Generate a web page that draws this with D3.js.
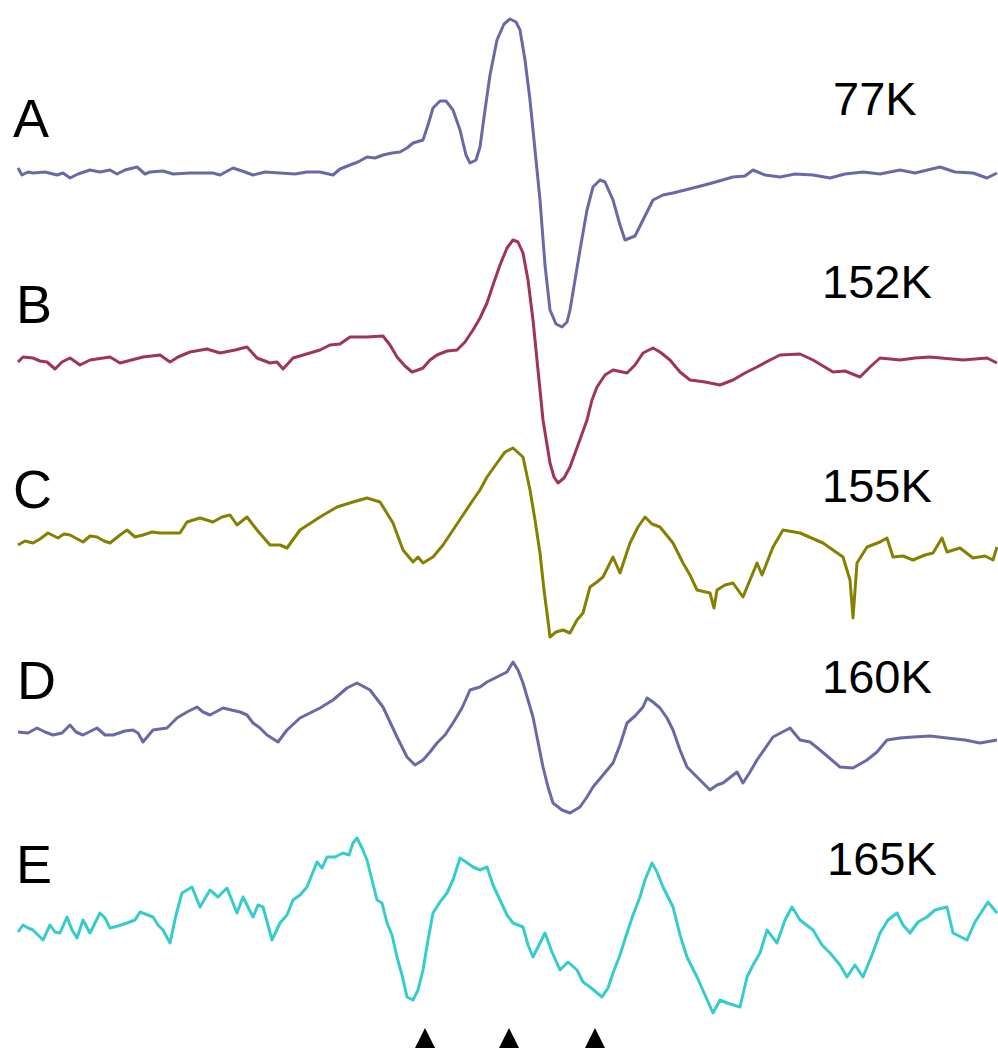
<!DOCTYPE html>
<html lang="en">
  <head>
    <meta charset="UTF-8" />
    <title>EPR spectra vs temperature</title>
    <script src="https://d3js.org/d3.v7.min.js"></script>
    <style>
      html, body { margin: 0; padding: 0; background: #fff; }
      #chart svg { display: block; }
      .lbl { font-family: "Liberation Sans", Arial, sans-serif; fill: #000; }
    </style>
  </head>
  <body>
    <div id="chart"></div>
    <script>
      const fieldA = [0,2,5,7.5,13.5,19.5,22.5,26,30,36,41,46,49.5,53.5,59.5,63.5,66,72.5,77.5,86,97.5,101,107.5,113.5,117.5,123.5,131,138.5,144.5,151,157.5,161,166,170,174.5,178.5,182.5,187,191,194.5,197.5,202.5,205,207.5,211,214,217.5,221,224,226,229,231,233.5,236,239.5,243,246,249,251,253.5,256,258.5,261,263.5,266,269,272,274.5,276,278.5,281,284.5,287.5,291,293.5,297.5,301,303.5,306,308.5,312.5,317.5,322.5,327.5,333.5,339.5,347,357.5,363.5,367.5,373.5,381,388.5,397.5,406,413.5,422.5,431,441,448.5,461,468.5,477.5,484.5,489.5];
      const signalA = [2.5,-1,0.5,0,0.5,-1,0,-2.5,-0.5,1.5,0.5,1.5,-0.5,1.5,3,-0.5,0.5,1,-0.5,0,0,-1,2.5,0.5,-1,0.5,0,-0.5,0.5,0.5,-1,2,4,5.5,8,7.5,9,10,10.5,12.5,15,16.5,24,32.5,36,36,31.5,21.5,9,5,6.5,13,31.5,49,66.5,74.5,77,75.5,71.5,56.5,36.5,11.5,-13.5,-46,-68.5,-75.5,-77,-74.5,-68.5,-53.5,-38.5,-18.5,-7,-3.5,-4.5,-13.5,-26,-33.5,-32.5,-31.5,-23.5,-13.5,-11,-10,-8.5,-7,-5,-2,-1.5,1.5,-1,-2,-0.5,-1,-2.5,-0.5,0.5,-0.5,1.5,0,3,0.5,0,-2.5,0];

      const fieldB = [0,2.5,7.5,11,14.5,18.5,22,26,31,36,46,51,62.5,71,76,80,86,94.5,101,108.5,114.5,119.5,126,129.5,132.5,137.5,146,151,156,161,166,174.5,182.5,186,189.5,193.5,197,200,202.5,206,209.5,214.5,219.5,223.5,227.5,231,234.5,237.5,241,244.5,247.5,250,252.5,255,257.5,260,262.5,266,268,270,273,276,280,284.5,287,289.5,293.5,297.5,304.5,308.5,312.5,317.5,321,326,331,336,343.5,351,357.5,363.5,369.5,376,381,391,397.5,402.5,407.5,413.5,421,426,431,441,448.5,456,472.5,484.5,489.5];
      const signalB = [-1,1.5,1,-0.5,-1,-4.5,-1,1,-2.5,0,1.5,-1.5,1.5,2.5,-1,1.5,4,5.5,3.5,5,6.5,1,-1.5,-1,-4.5,1,3.5,5,7.5,8,11.5,11.5,12,7.5,1.5,-3,-6,-5,-4,0,2.5,4.5,5,9,15,21,28.5,37.5,47.5,56,60,59,53.5,40,20,-5,-30,-51.5,-58.5,-61.5,-59,-53.5,-42.5,-30,-20,-13.5,-7.5,-5,-6.5,-2.5,3.5,6,4,0,-6,-10,-11,-12.5,-10,-6.5,-3.5,0,2.5,3,0,-3,-6,-5.5,-8.5,-3.5,1,0,1,1.5,0,1,-1.5];

      const fieldC = [0,3.5,7.5,11,15,20,23,26,32.5,36,39.5,43,46,51,54.5,58.5,62.5,67,71,81,84.5,91,97.5,102,106,109.5,114.5,119.5,126,131,134.5,141,151,159.5,167.5,174.5,181,187.5,192.5,197.5,200,202.5,207.5,212.5,217.5,222.5,227.5,231,234.5,239.5,243.5,247.5,252.5,256,258.5,261,263,264.5,266,269,272.5,276,279.5,282.5,286,289.5,292.5,297.5,301,306,310,313.5,317,321,327.5,332.5,336,339.5,346,348,349.5,353.5,357.5,362.5,366,369.5,372,377.5,382.5,391,402.5,412.5,416,417.5,419.5,424.5,431,434.5,437.5,442.5,447.5,453.5,457.5,462,464.5,471,477.5,483.5,487.5,489.5];
      const signalC = [-2.5,-0.5,-1.5,0.5,3.5,1,3,2.5,-1,2,1.5,-0.5,-1.5,2.5,5,1.5,2.5,4,3.5,3.5,9,11,9,11.5,12.5,7.5,11.5,5,-2.5,-2.5,-4,5,11.5,16.5,19,21,19,8.5,-5,-11,-8.5,-11.5,-8.5,-2.5,5,12.5,20,25,31.5,38.5,44,46,41.5,25,10,-6.5,-25,-36.5,-48.5,-46,-45,-46.5,-40,-36.5,-23.5,-21,-18.5,-8.5,-16.5,-1.5,6.5,11.5,8,6.5,-1.5,-11.5,-17.5,-25,-26.5,-34,-25,-22.5,-21.5,-28.5,-20,-11.5,-17.5,-3.5,5,3.5,-1.5,-8.5,-20,-39,-11.5,-3.5,-1,1,-8.5,-8,-10,-7.5,-6.5,1,-6,-4,-9,-8,-10,-3.5];

      const fieldD = [0,5,9.5,13.5,17.5,22,26,29,32.5,39.5,43.5,47.5,53.5,57.5,60,62.5,67.5,74.5,79.5,84.5,89.5,92.5,96,102.5,111,114.5,117.5,121,124.5,130,134.5,141,146,151,157.5,164.5,169.5,176,182.5,186,189.5,194.5,198.5,202.5,206,209.5,213.5,217.5,222,226,231,234.5,239.5,244.5,247.5,250,252.5,255,257.5,260,262.5,265,267.5,272,276,281,284.5,287.5,292.5,297.5,301,304.5,308.5,312.5,314.5,317.5,321,324.5,327.5,331,334.5,341,346,349.5,352.5,359.5,362.5,366,369.5,377.5,386,391,396,401,411,417.5,424.5,429.5,434.5,441,447.5,456,464.5,473.5,481,489.5];
      const signalD = [1.5,1,3.5,1.5,0,1,5,1.5,0,3.5,0,0,2,2.5,1,-3.5,2.5,3.5,8.5,11.5,14,11.5,10,13.5,11.5,10,6,3.5,0,-3.5,2.5,8.5,11,13.5,17.5,23.5,26,22.5,14,6.5,-1,-11,-15,-12.5,-8.5,-4,0,6,13.5,22.5,24,26.5,29,31.5,36.5,32.5,26,17.5,9,-3.5,-16,-26,-34,-37.5,-39,-36,-31,-26,-20,-14,-5,6,9.5,14,18.5,16.5,13.5,8.5,2.5,-7.5,-16,-22.5,-27.5,-25,-24,-18.5,-24,-18.5,-12.5,-1,3.5,-2.5,-3.5,-7.5,-16,-16.5,-12.5,-8.5,-2.5,-1.5,-1,-0.5,-1.5,-2.5,-4,-2.5];

      const fieldE = [0,2.5,5,7.5,12.5,16,18.5,21,24.5,27,29.5,32.5,36,41,43.5,46,50,54.5,58.5,61,67.5,70,72.5,76,79,82,87,91,96,100,104.5,109.5,112.5,117.5,120,122.5,125,127,131,134.5,137.5,141,144.5,149.5,152,154.5,158.5,162.5,165.5,167.5,169.5,172,174.5,177,179.5,182,184.5,187,189.5,192,194.5,197.5,200,202.5,205,207.5,211,214.5,217.5,221,224,227.5,231,234.5,237.5,241,244.5,247.5,252.5,255,257.5,263.5,267,271,275,279.5,282.5,286,292,295,297.5,301,304.5,307.5,311,313.5,317,319.5,322.5,327.5,331,334.5,339.5,343.5,347.5,351,354.5,361,364.5,367.5,371,374.5,379.5,383.5,387,391,397.5,402,406,411,414.5,418.5,422.5,427,431,435,439.5,442.5,446,450,454.5,458.5,464.5,467.5,474.5,478.5,485,489.5];
      const signalE = [-3.5,0,-1.5,-2.5,-7.5,0,-3.5,-4,4,-2.5,-6.5,2.5,-4,6,3.5,-1.5,-0.5,1,2.5,6.5,4,0,-2.5,-9,5,16,19,9,17.5,14,18.5,6,14,4,10,9,0,-7.5,1,5,12.5,15,19,31.5,28.5,34,34,36,35,41,43.5,38.5,32.5,22.5,12.5,11,1,-5,-16,-25,-36,-37.5,-32.5,-22.5,-7.5,6,11.5,16,22.5,33.5,31.5,29,27.5,29,20,12.5,5,1,-1,-10,-16,-4,-13.5,-22.5,-18.5,-22.5,-28.5,-31,-36,-31.5,-24,-15,-4,5,14,22.5,31,26.5,19,9,-5,-16,-26,-35,-44,-37.5,-39,-41,-26,-20,-14,-2.5,-9,2.5,9,2.5,-2.5,-10,-14,-20,-26,-20,-26,-15,-4,2.5,6,0,-4,1.5,4,7.5,9,-4,-7.5,1.5,11.5,6];

      const traceLetters = ["A", "B", "C", "D", "E"];
      const temperatures = ["77K", "152K", "155K", "160K", "165K"];
      const stackOffsets = [0, -93.5, -183.5, -281, -376];
      const markerFields = [203.5, 245.5, 288.5];

      const width = 998, height = 1048;
      const colors = ["#6a69a8", "#a0325f", "#868000", "#6a69a8", "#36cccc"];

      const svg = d3.select("#chart").append("svg")
        .attr("width", width).attr("height", height);

      const x = d3.scaleLinear().domain([0, 490]).range([18, 998]);
      const y = d3.scaleLinear().domain([0, -376]).range([173, 925]);

      const traces = [
        { f: fieldA, s: signalA },
        { f: fieldB, s: signalB },
        { f: fieldC, s: signalC },
        { f: fieldD, s: signalD },
        { f: fieldE, s: signalE }
      ];

      const line = d3.line().x(d => x(d[0])).y(d => y(d[1]));

      traces.forEach((t, i) => {
        const pts = t.f.map((v, k) => [v, t.s[k] + stackOffsets[i]]);
        svg.append("path")
          .datum(pts)
          .attr("d", line)
          .attr("fill", "none")
          .attr("stroke", colors[i])
          .attr("stroke-width", 3)
          .attr("stroke-linejoin", "round");
      });

      // etiquettes
      const letterY = [137, 323, 508, 699, 883];
      const letterX = [13, 16, 13, 17, 16];
      const tempY = [115, 298, 502, 693, 875];
      const tempX = [833, 822, 822, 822, 827];

      svg.selectAll("text.letter").data(traceLetters).join("text")
        .attr("class", "lbl letter")
        .attr("x", (d, i) => letterX[i])
        .attr("y", (d, i) => letterY[i])
        .style("font-size", "54px")
        .text(d => d);

      svg.selectAll("text.temp").data(temperatures).join("text")
        .attr("class", "lbl temp")
        .attr("x", (d, i) => tempX[i])
        .attr("y", (d, i) => tempY[i])
        .style("font-size", "47px")
        .text(d => d);

      // triangles
      svg.selectAll("path.marker").data(markerFields).join("path")
        .attr("class", "marker")
        .attr("d", d => {
          const cx = x(d);
          return `M${cx},1028 L${cx + 12},1052 L${cx - 12},1052 Z`;
        })
        .attr("fill", "#000");
    </script>
  </body>
</html>
